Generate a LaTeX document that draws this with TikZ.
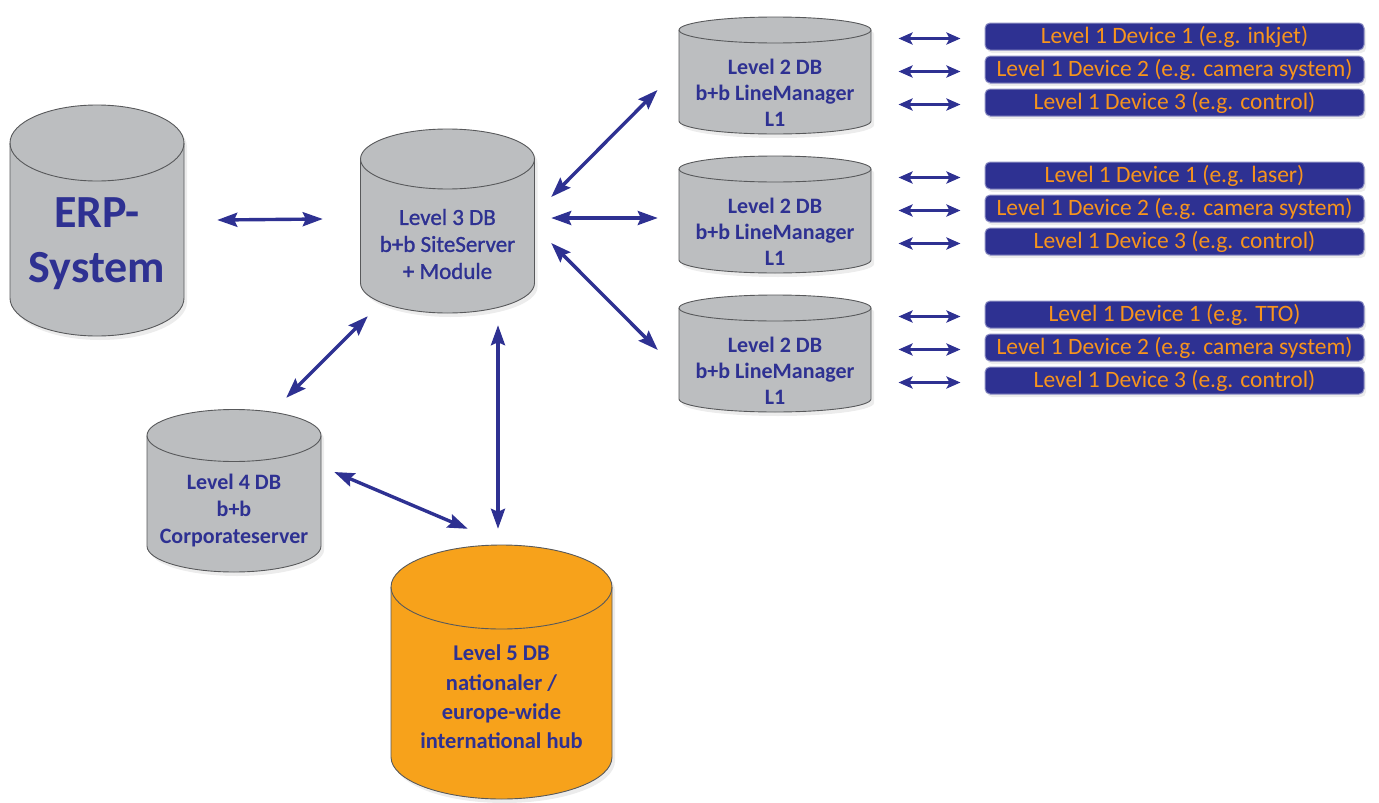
\documentclass[tikz,border=0pt]{standalone}
\usepackage{fontspec}
\setmainfont{Carlito}
\newfontfamily\semibold{Carlito}[FakeBold=1.2]
\usepackage{tikz}
\usetikzlibrary{arrows.meta,shadows}

\definecolor{navy}{HTML}{2E3192}
\definecolor{dbgray}{HTML}{BCBEC0}
\definecolor{rimgray}{HTML}{58595B}
\definecolor{hubor}{HTML}{F7A21B}
\definecolor{devor}{HTML}{F7941D}

\begin{document}
\begin{tikzpicture}[x=1pt, y=-1pt, line join=round,
cyl/.style={draw=rimgray, line width=0.9pt},
dbtext/.style={text=navy, align=center, inner sep=0pt},
device/.style={rounded corners=5pt, fill=navy, draw=navy!55!white, line width=1pt,
  text=devor, minimum width=379pt, minimum height=27pt, inner sep=0pt,
  font=\fontsize{23.5}{26}\selectfont,
  drop shadow={shadow xshift=2pt, shadow yshift=-3pt, opacity=0.15}},
link/.style={draw=navy, line width=3.4pt,
  {Stealth[length=20pt,width=14pt,inset=3pt]}-{Stealth[length=20pt,width=14pt,inset=3pt]}},
devlink/.style={draw=navy, line width=3pt,
  {Stealth[length=14pt,width=12pt,inset=3pt]}-{Stealth[length=14pt,width=12pt,inset=3pt]}}]

\useasboundingbox (0,0) rectangle (1379,803);

% Draw the database cylinders
\foreach \cx/\rx/\yt/\yb/\ry/\col in {97/87/143/298/38/dbgray, 447.5/87/159/283/30/dbgray,
  775/96/30/121/13/dbgray, 775/96/169/260/13/dbgray, 775/96/308/399/13/dbgray,
  234/87/435.5/546/26/dbgray, 501.5/110.5/587/757/42/hubor} {
	\draw[cyl, fill=\col, drop shadow={shadow xshift=3pt, shadow yshift=-4pt, opacity=0.15}]
	  (\cx-\rx,\yt) -- (\cx-\rx,\yb)
	  arc[start angle=180, end angle=0, x radius=\rx, y radius=\ry] -- (\cx+\rx,\yt)
	  arc[start angle=0, end angle=-180, x radius=\rx, y radius=\ry] -- cycle; % body
	\draw[cyl] (\cx+\rx,\yt) arc[start angle=0, end angle=180, x radius=\rx, y radius=\ry]; % rim of the lid
}

% Labels of the databases
\node[dbtext, font=\bfseries\fontsize{46}{55}\selectfont, minimum width=174pt, minimum height=186pt] (erp) at (97,244) {ERP-\\System};
\node[dbtext, font=\semibold\fontsize{23}{27}\selectfont, minimum width=174pt, minimum height=138pt] (l3) at (447.5,244) {Level 3 DB\\b+b SiteServer\\+ Module};
\foreach \r/\nm in {0/a,1/b,2/c} {
	\node[dbtext, font=\bfseries\fontsize{22}{26}\selectfont, minimum width=192pt, minimum height=83pt] (l2\nm) at (775,92.5+139*\r) {Level 2 DB\\b+b LineManager\\L1};
}
\node[dbtext, font=\bfseries\fontsize{22}{27}\selectfont, minimum width=174pt, minimum height=122pt] (l4) at (234,511) {Level 4 DB\\b+b\\Corporateserver};
\node[dbtext, font=\bfseries\fontsize{22.5}{29.3}\selectfont, minimum width=221pt, minimum height=204pt] (l5) at (501.5,697) {Level 5 DB\\nationaler /\\europe-wide\\international hub};

% Level 1 devices, three per line manager
\foreach \r/\ex in {0/inkjet,1/laser,2/TTO} {
	\node[device] (d\r1) at (1174.5,36.5+139*\r) {Level 1 Device 1 (e.g. \ex)};
	\node[device] (d\r2) at (1174.5,69.5+139*\r) {Level 1 Device 2 (e.g. camera system)};
	\node[device] (d\r3) at (1174.5,102.5+139*\r) {Level 1 Device 3 (e.g. control)};
	\foreach \i in {1,2,3} {
		\draw[devlink] ([shift={(-86,2)}]d\r\i.west) -- ([shift={(-24,2)}]d\r\i.west);
	}
}

% Links between the databases
\draw[link] ([shift={(33,-24)}]erp.east) -- ([shift={(-37.5,-25)}]l3.west);
\draw[link] ([shift={(16.5,-47)}]l3.east) -- ([shift={(-21.3,-2.5)}]l2a.west);
\draw[link] ([shift={(16.5,-26)}]l3.east) -- ([shift={(-21,-13.5)}]l2b.west);
\draw[link] ([shift={(16.5,-1)}]l3.east) -- ([shift={(-21,-20.5)}]l2c.west);
\draw[link] ([shift={(7.5,3)}]l3.south west) -- ([shift={(-35,-52)}]l4.north east);
\draw[link] ([shift={(50.5,12)}]l3.south) -- ([shift={(-3.5,-66)}]l5.north);
\draw[link] ([shift={(13,-39)}]l4.east) -- ([shift={(77,-66)}]l5.north west);

\end{tikzpicture}
\end{document}
